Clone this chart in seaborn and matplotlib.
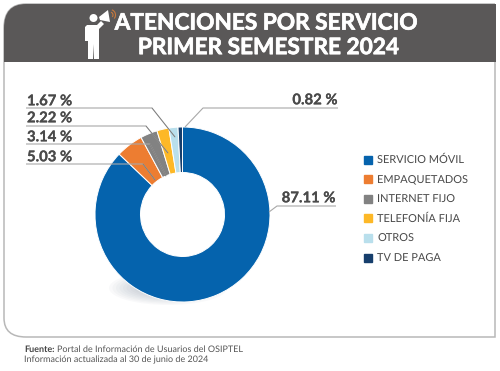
import matplotlib
matplotlib.use("Agg")
import matplotlib.pyplot as plt
import matplotlib.patches as mpatches
import matplotlib.patheffects as pe
from matplotlib.lines import Line2D
from matplotlib.path import Path
import seaborn as sns

services = ['SERVICIO MÓVIL', 'EMPAQUETADOS', 'INTERNET FIJO', 'TELEFONÍA FIJA', 'OTROS', 'TV DE PAGA']
shares = [87.11, 5.03, 3.14, 2.22, 1.67, 0.82]
share_labels = ['87.11 %', '5.03 %', '3.14 %', '2.22 %', '1.67 %', '0.82 %']
colors = ['#0563ad', '#ed7d31', '#828282', '#fdb827', '#b9dfec', '#163e6c']

sns.set_theme(style='white')
plt.rcParams['font.family'] = ['Lato', 'DejaVu Sans']
plt.rcParams['text.hinting'] = 'no_hinting'
plt.rcParams['text.hinting_factor'] = 1

H = 371
def yy(y):
    # picture pixels run downwards, the axes upwards
    return H - y

fig = plt.figure(figsize=(5, 3.71), dpi=100)
ax = fig.add_axes([0, 0, 1, 1])

wedges, _ = ax.pie(shares, colors=sns.color_palette(colors), startangle=90, counterclock=False,
                   center=(182.5, yy(214.5)), radius=87.5,
                   wedgeprops=dict(width=45.5, edgecolor='white', linewidth=0.7, zorder=2))
ax.set_xlim(0, 500)
ax.set_ylim(0, H)
ax.set_aspect('equal')
ax.axis('off')

# soft shadow under the ring
for i in range(8):
    ax.add_patch(mpatches.Ellipse((168, yy(288)), 118 - i * 7, 34 - i * 2.5, fc='#5f6f85', ec='none', alpha=0.035, zorder=1))

# frame, rounded on the left side only
frame = Path([(495, yy(4)), (26, yy(4)), (4, yy(4)), (4, yy(28)), (4, yy(318)), (4, yy(337)), (26, yy(337)), (495, yy(337)), (495, yy(4))],
             [Path.MOVETO, Path.LINETO, Path.CURVE3, Path.CURVE3, Path.LINETO, Path.CURVE3, Path.CURVE3, Path.LINETO, Path.LINETO])
ax.add_patch(mpatches.PathPatch(frame, fc='none', ec='#b8b8b8', lw=1.1, zorder=0))
head = Path([(496, yy(4)), (26, yy(4)), (4, yy(4)), (4, yy(28)), (4, yy(62)), (496, yy(62)), (496, yy(4))],
            [Path.MOVETO, Path.LINETO, Path.CURVE3, Path.CURVE3, Path.LINETO, Path.LINETO, Path.LINETO])
ax.add_patch(mpatches.PathPatch(head, fc='#5a5858', ec='none', zorder=1))

heavy = [pe.withStroke(linewidth=0.5, foreground='white')]
ax.text(268.5, yy(23), 'ATENCIONES POR SERVICIO', color='white', fontsize=16.3, fontweight='bold', ha='center', va='center', zorder=3, path_effects=heavy)
ax.text(270.5, yy(47.5), 'PRIMER SEMESTRE 2024', color='white', fontsize=16.3, fontweight='bold', ha='center', va='center', zorder=3, path_effects=heavy)

# man with megaphone
ax.add_patch(mpatches.Circle((93.5, yy(18)), 4, fc='white', ec='none', zorder=3))
ax.add_patch(mpatches.Polygon([(85, yy(27)), (87, yy(25)), (97, yy(25)), (101, yy(21)), (104, yy(24)), (99, yy(29)), (99, yy(59)), (94, yy(59)),
                               (93.5, yy(44)), (93, yy(59)), (88, yy(59)), (88, yy(41)), (85, yy(41))], fc='white', ec='none', zorder=3))
ax.add_patch(mpatches.Polygon([(99, yy(17)), (108, yy(10)), (110, yy(22)), (100, yy(20))], fc='white', ec='none', zorder=3))
for r in [3, 5.5]:
    ax.add_patch(mpatches.Arc((110, yy(15)), r * 2, r * 2, theta1=-40, theta2=70, color='#c8793c', lw=0.8, zorder=3))

# leader lines
leaders = [
    [(336, 206), (277, 206), (269, 212)],
    [(26, 164), (143, 164), (155, 180)],
    [(26, 144), (150, 144), (166, 176)],
    [(26, 126), (146, 126), (168, 153)],
    [(26, 108), (152, 108), (175, 137)],
    [(338, 108), (203, 108), (185, 127)],
]
for pts in leaders:
    ax.plot([p[0] for p in pts], [yy(p[1]) for p in pts], color='#a8a8a8', lw=0.8, zorder=4, solid_capstyle='butt')
# the parts that run over the ring read darker
for pts in leaders[1:5]:
    ax.plot([pts[1][0], pts[2][0]], [yy(pts[1][1]), yy(pts[2][1])], color='#555555', lw=0.5, zorder=4, alpha=0.6)

label_spots = [(336, 198, 'right'), (27, 157, 'left'), (27, 137, 'left'), (27, 118, 'left'), (27, 101, 'left'), (338, 100, 'right')]
for lab, (x, y, ha) in zip(share_labels, label_spots):
    ax.text(x, yy(y), lab, color='#4a4a4a', fontsize=10.7, fontweight='bold', ha=ha, va='center', zorder=5,
            path_effects=[pe.withStroke(linewidth=0.15, foreground='#4a4a4a')])

handles = [Line2D([], [], ls='none', marker='s', ms=6, mfc=c, mec=c, label=s) for c, s in zip(colors, services)]
leg = ax.legend(handles=handles, loc='upper left', bbox_to_anchor=(360.5 / 500, yy(155) / H), frameon=False,
                fontsize=8, labelspacing=0.86, handletextpad=0.1, handlelength=1.4, borderpad=0, borderaxespad=0)
for t in leg.get_texts():
    t.set_color('#4a4a4a')

# footer
foot_color = '#555555'
foot_font = ['Lato', 'DejaVu Sans']
ax.text(24, yy(351.5), 'Fuente:', color='#444444', fontsize=6.7, fontweight='bold', va='baseline', family=foot_font)
ax.text(57, yy(351.5), 'Portal de Información de Usuarios del OSIPTEL', color=foot_color, fontsize=6.7, va='baseline', family=foot_font)
ax.text(24, yy(362.5), 'Información actualizada al 30 de junio de 2024', color=foot_color, fontsize=6.7, va='baseline', family=foot_font)

fig.savefig('out.png', dpi=100, facecolor='white')
